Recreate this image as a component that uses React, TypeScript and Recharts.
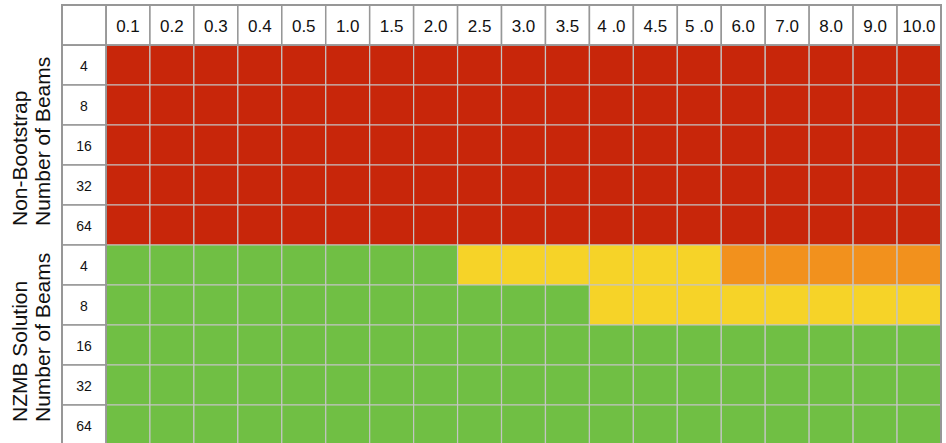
import React from 'react';
import { BarChart, Bar, XAxis, YAxis, Cell } from 'recharts';

// ---- data ----
const columns = ['0.1', '0.2', '0.3', '0.4', '0.5', '1.0', '1.5', '2.0', '2.5', '3.0', '3.5', '4 .0', '4.5', '5 .0', '6.0', '7.0', '8.0', '9.0', '10.0'];
const beamCounts = ['4', '8', '16', '32', '64'];
// R = red, O = orange, Y = yellow, G = green
const nonBootstrapRows = [
  'RRRRRRRRRRRRRRRRRRR',
  'RRRRRRRRRRRRRRRRRRR',
  'RRRRRRRRRRRRRRRRRRR',
  'RRRRRRRRRRRRRRRRRRR',
  'RRRRRRRRRRRRRRRRRRR',
];
const nzmbRows = [
  'GGGGGGGGYYYYYYOOOOO',
  'GGGGGGGGGGGYYYYYYYY',
  'GGGGGGGGGGGGGGGGGGG',
  'GGGGGGGGGGGGGGGGGGG',
  'GGGGGGGGGGGGGGGGGGG',
];
const sectionTitles = [
  ['Non-Bootstrap', 'Number of Beams'],
  ['NZMB Solution', 'Number of Beams'],
];

// ---- styles ----
const COLORS: Record<string, string> = {
  R: '#C8260A',
  O: '#F2911D',
  Y: '#F6D328',
  G: '#70BF44',
};
const FONT = '"Liberation Sans", Arial, Helvetica, sans-serif';
const W = 946;
const H = 450;
const LEFT = 62;
const TOP = 5;
const LABEL_W = 44;
const HEADER_H = 40;
const RIGHT = 941;
const BOTTOM = 445;
const PLOT_LEFT = LEFT + LABEL_W;
const PLOT_TOP = TOP + HEADER_H;
const CELL_W = (RIGHT - PLOT_LEFT) / columns.length;
const ROW_H = (BOTTOM - PLOT_TOP) / (nonBootstrapRows.length + nzmbRows.length);
const BORDER = '#979797';
const INNER = '#c4c4c4';

type Row = { id: string; label: string; codes: string; [k: string]: any };
const rows: Row[] = [
  ...nonBootstrapRows.map((codes, i) => ({ id: `nb-${i}`, label: beamCounts[i], codes })),
  ...nzmbRows.map((codes, i) => ({ id: `nz-${i}`, label: beamCounts[i], codes })),
].map((r) => {
  const o: Row = { ...r };
  columns.forEach((_, j) => {
    o[`c${j}`] = 1;
  });
  return o;
});
const labelById: Record<string, string> = {};
rows.forEach((r) => (labelById[r.id] = r.label));

const HeaderTick = (props: any) => {
  const { x, payload } = props;
  const idx = Math.floor(payload.value);
  return (
    <g>
      <rect x={x - CELL_W / 2} y={TOP} width={CELL_W} height={HEADER_H} fill="#fff" stroke={BORDER} strokeWidth={1.5} />
      <text x={x} y={TOP + 27} textAnchor="middle" fontSize={17} fill="#111" fontFamily={FONT}>
        {columns[idx]}
      </text>
    </g>
  );
};

const RowTick = (props: any) => {
  const { y, payload } = props;
  return (
    <g>
      <rect x={LEFT} y={y - ROW_H / 2} width={LABEL_W} height={ROW_H} fill="#fff" stroke={BORDER} strokeWidth={1.5} />
      <text x={LEFT + LABEL_W / 2} y={y + 6} textAnchor="middle" fontSize={14} fill="#111" fontFamily={FONT}>
        {labelById[payload.value]}
      </text>
    </g>
  );
};

export default function App() {
  const groupH = ROW_H * 5;
  return (
    <div style={{ position: 'absolute', left: 0, top: 0, width: 946, height: 443, overflow: 'hidden', background: '#fff' }}>
      <BarChart
        width={W}
        height={H}
        data={rows}
        layout="vertical"
        barCategoryGap={0}
        barGap={0}
        margin={{ top: TOP, left: LEFT, right: W - RIGHT, bottom: H - BOTTOM }}
      >
        <XAxis
          type="number"
          orientation="top"
          domain={[0, columns.length]}
          ticks={columns.map((_, j) => j + 0.5)}
          interval={0}
          height={HEADER_H}
          axisLine={false}
          tickLine={false}
          tickSize={0}
          tick={<HeaderTick />}
        />
        <YAxis
          type="category"
          dataKey="id"
          width={LABEL_W}
          interval={0}
          axisLine={false}
          tickLine={false}
          tickSize={0}
          tick={<RowTick />}
        />
        {columns.map((c, j) => (
          <Bar key={c} dataKey={`c${j}`} stackId="grid" isAnimationActive={false}>
            {rows.map((r) => (
              <Cell key={r.id} fill={COLORS[r.codes[j]]} stroke={INNER} strokeWidth={1.2} />
            ))}
          </Bar>
        ))}
      </BarChart>
      <svg
        width={946}
        height={443}
        style={{ position: 'absolute', left: 0, top: 0, pointerEvents: 'none' }}
      >
        <rect x={LEFT} y={TOP} width={LABEL_W} height={HEADER_H} fill="#fff" stroke={BORDER} strokeWidth={1.5} />
        <line x1={LEFT} y1={PLOT_TOP} x2={RIGHT} y2={PLOT_TOP} stroke={BORDER} strokeWidth={1.5} />
        <line x1={PLOT_LEFT} y1={TOP} x2={PLOT_LEFT} y2={BOTTOM} stroke={BORDER} strokeWidth={1.5} />
        <rect x={LEFT} y={TOP} width={RIGHT - LEFT} height={BOTTOM - TOP} fill="none" stroke={BORDER} strokeWidth={2} />
        {sectionTitles.map((lines, g) => {
          const startY = PLOT_TOP + groupH * (g + 1) - (g === 0 ? 19 : 23);
          return (
            <g key={g}>
              {lines.map((t, k) => {
                const bx = 27 + k * 23;
                return (
                  <text
                    key={k}
                    x={bx}
                    y={startY}
                    transform={`rotate(-90 ${bx} ${startY})`}
                    textAnchor="start"
                    fontSize={21}
                    fill="#111"
                    fontFamily={FONT}
                  >
                    {t}
                  </text>
                );
              })}
            </g>
          );
        })}
      </svg>
    </div>
  );
}
